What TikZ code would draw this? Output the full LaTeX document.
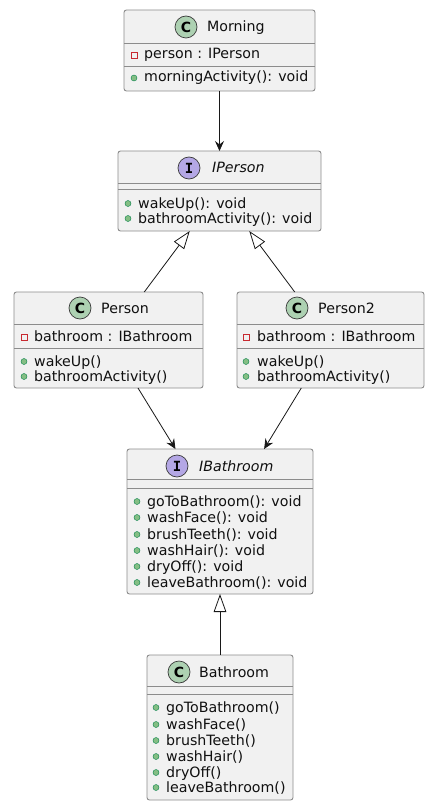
\documentclass[tikz,border=0pt]{standalone}
\usepackage{fontspec}
\setmainfont{DejaVu Sans}
\newfontfamily\iconmono{DejaVu Sans Mono}
\usetikzlibrary{arrows.meta}
\definecolor{boxfill}{HTML}{F1F1F1}
\definecolor{boxline}{HTML}{8C8C8C}
\definecolor{iconline}{HTML}{3A3A3A}
\definecolor{arrowline}{HTML}{181818}
\definecolor{cgreen}{HTML}{ADD1B2}
\definecolor{ipurple}{HTML}{B4A7E5}
\definecolor{pubfill}{HTML}{84BE84}
\definecolor{publine}{HTML}{038048}
\definecolor{privline}{HTML}{C82930}
\definecolor{txtcol}{HTML}{101010}
\tikzset{
  umlbox/.style={draw=boxline, fill=boxfill, line width=0.9pt, rounded corners=2.5pt, inner sep=0pt, outer sep=0pt},
  sep/.style={draw=boxline, line width=0.9pt},
  txt/.style={anchor=base west, inner sep=0pt, text=txtcol, font=\fontsize{14.2}{16}\selectfont},
  ititle/.style={txt, font=\fontsize{14.2}{16}\selectfont\itshape},
  cicon/.style={circle, draw=iconline, line width=0.7pt, fill=cgreen, minimum size=22pt, inner sep=0pt, font=\fontsize{14}{16}\selectfont\bfseries},
  iicon/.style={circle, draw=iconline, line width=0.7pt, fill=ipurple, minimum size=22pt, inner sep=0pt, font=\fontsize{14}{16}\selectfont\iconmono\bfseries},
  pub/.style={circle, draw=publine, line width=0.4pt, fill=pubfill, minimum size=6pt, inner sep=0pt},
  priv/.style={rectangle, draw=privline, line width=0.8pt, minimum size=6pt, inner sep=0pt},
  dep/.style={draw=arrowline, line width=0.8pt, -{Stealth[length=10pt, width=9pt, inset=3.5pt]}},
  real/.style={draw=arrowline, line width=0.8pt, -{Triangle[open, length=18pt, width=12.6pt, fill=white]}},
}
\begin{document}
\begin{tikzpicture}[x=1pt, y=-1pt]
\useasboundingbox[fill=white] (0,0) rectangle (440,805);

% ---------- Morning ----------
\node[umlbox, minimum width=191pt, minimum height=81pt] (morning) at (219.5,50.5) {};
\draw[sep] (124,43) -- (315,43);
\draw[sep] (124,66) -- (315,66);
\node[cicon] (morningicon) at (186,27) {C};
\node[txt] (morningtitle) at (207,32) {Morning};
\node[priv] (morningf1d) at (134,55) {};
\node[txt] (morningf1) at (144,59) {person : IPerson};
\node[pub] (morningm1d) at (134,78) {};
\node[txt] (morningm1) at (144,82) {morningActivity(): void};

% ---------- IPerson ----------
\node[umlbox, minimum width=203pt, minimum height=80pt] (iperson) at (219.5,191) {};
\draw[sep] (118,183) -- (321,183);
\draw[sep] (118,189) -- (321,189);
\node[iicon] (ipersonicon) at (189,168) {I};
\node[ititle] (ipersontitle) at (212,172) {IPerson};
\node[pub] (ipersonm1d) at (128,203.5) {};
\node[txt] (ipersonm1) at (138,208) {wakeUp(): void};
\node[pub] (ipersonm2d) at (128,218.5) {};
\node[txt] (ipersonm2) at (138,223) {bathroomActivity(): void};

% ---------- Person ----------
\node[umlbox, minimum width=189pt, minimum height=96pt] (person) at (108.5,340) {};
\draw[sep] (14,324) -- (203,324);
\draw[sep] (14,348) -- (203,348);
\node[cicon] (personicon) at (80,308) {C};
\node[txt] (persontitle) at (101,313) {Person};
\node[priv] (personf1d) at (24,337) {};
\node[txt] (personf1) at (34,341) {bathroom : IBathroom};
\node[pub] (personm1d) at (24,361.5) {};
\node[txt] (personm1) at (34,366) {wakeUp()};
\node[pub] (personm2d) at (24,376.5) {};
\node[txt] (personm2) at (34,381) {bathroomActivity()};

% ---------- Person2 ----------
\node[umlbox, minimum width=187pt, minimum height=96pt] (persontwo) at (330.5,340) {};
\draw[sep] (237,324) -- (424,324);
\draw[sep] (237,348) -- (424,348);
\node[cicon] (persontwoicon) at (297,308) {C};
\node[txt] (persontwotitle) at (318,313) {Person2};
\node[priv] (persontwof1d) at (246,337) {};
\node[txt] (persontwof1) at (257,341) {bathroom : IBathroom};
\node[pub] (persontwom1d) at (246,361.5) {};
\node[txt] (persontwom1) at (257,366) {wakeUp()};
\node[pub] (persontwom2d) at (246,376.5) {};
\node[txt] (persontwom2) at (257,381) {bathroomActivity()};

% ---------- IBathroom ----------
\node[umlbox, minimum width=186pt, minimum height=145pt] (ibath) at (220,521.5) {};
\draw[sep] (127,479) -- (313,479);
\draw[sep] (127,488) -- (313,488);
\node[iicon] (ibathicon) at (177,466) {I};
\node[ititle] (ibathtitle) at (199,471) {IBathroom};
\foreach \t/\y [count=\i] in {goToBathroom(): void/506, washFace(): void/522, brushTeeth(): void/539, washHair(): void/555, dryOff(): void/571, leaveBathroom(): void/587}{
  \node[pub] (ibathm\i d) at (137,\y-4.5) {};
  \node[txt] (ibathm\i) at (147,\y) {\t};
}

% ---------- Bathroom ----------
\node[umlbox, minimum width=146pt, minimum height=145pt] (bath) at (220,727.5) {};
\draw[sep] (147,686) -- (293,686);
\draw[sep] (147,694) -- (293,694);
\node[cicon] (bathicon) at (179,672) {C};
\node[txt] (bathtitle) at (199,677) {Bathroom};
\foreach \t/\y [count=\i] in {goToBathroom()/712, washFace()/729, brushTeeth()/745, washHair()/761, dryOff()/777, leaveBathroom()/792}{
  \node[pub] (bathm\i d) at (156,\y-4.5) {};
  \node[txt] (bathm\i) at (166,\y) {\t};
}

% ---------- connectors ----------
\draw[dep] (morning) -- (iperson);
\draw[real] (person) -- (iperson);
\draw[real] (persontwo) -- (iperson);
\draw[dep] (person) -- (ibath);
\draw[dep] (persontwo) -- (ibath);
\draw[real] (bath) -- (ibath);
\end{tikzpicture}
\end{document}
